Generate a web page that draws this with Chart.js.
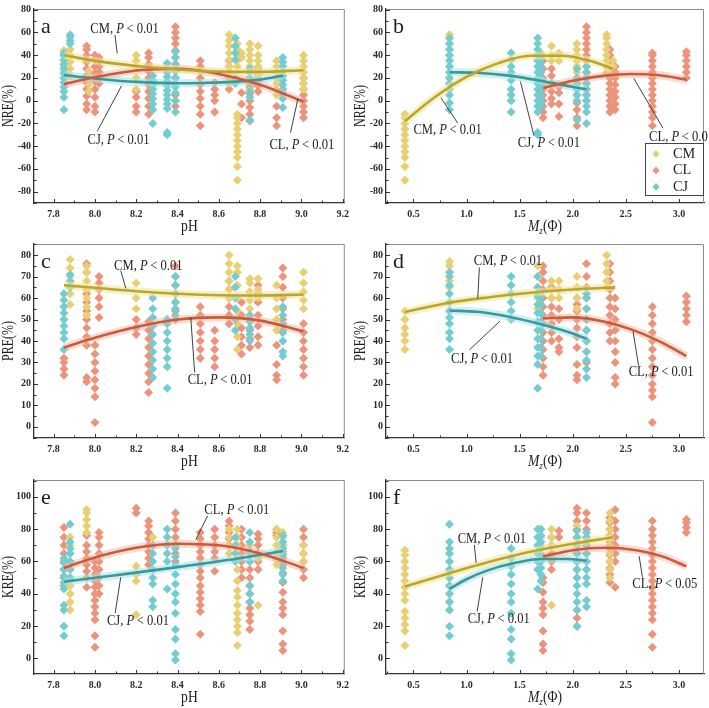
<!DOCTYPE html>
<html>
<head>
<meta charset="utf-8">
<script src="https://cdn.jsdelivr.net/npm/chart.js@4.4.1/dist/chart.umd.min.js"></script>
<style>
  body { margin: 0; background: #fff; width: 709px; height: 708px; position: relative; overflow: hidden; }
  canvas { position: absolute; }
</style>
</head>
<body>
<canvas id="pa" width="354" height="236" style="left:0;top:0"></canvas>
<canvas id="pb" width="357" height="236" style="left:352px;top:0"></canvas>
<canvas id="pc" width="354" height="236" style="left:0;top:235px"></canvas>
<canvas id="pd" width="357" height="236" style="left:352px;top:235px"></canvas>
<canvas id="pe" width="354" height="236" style="left:0;top:471px"></canvas>
<canvas id="pf" width="357" height="236" style="left:352px;top:471px"></canvas>
<script>
const seriesNames = ['CM', 'CL', 'CJ'];

// tick labels
const phTicks = [7.8, 8.0, 8.2, 8.4, 8.6, 8.8, 9.0, 9.2];
const mzTicks = [0.5, 1.0, 1.5, 2.0, 2.5, 3.0];
const nreTicks = [-80, -60, -40, -20, 0, 20, 40, 60, 80];
const preTicks = [0, 10, 20, 30, 40, 50, 60, 70, 80];
const kreTicks = [0, 20, 40, 60, 80, 100];

// columns of points: [x, [y values]]
// NRE vs pH
const nrePhCM = [[7.85, [20, 25, 30, 35, 40, 44]], [7.88, [22, 28, 34, 40, 45]], [7.97, [8, 14, 20, 26]],
  [8.2, [10, 20, 30, 35, 40]], [8.65, [15, 20, 25, 30, 36, 42, 48, 53, 58]],
  [8.69, [-70, -58, -50, -45, -40, -35, -30, -25, -20, -15, -12, 30, 35, 40, 45, 50]], [8.71, [38, 42]],
  [8.75, [10, 15, 20, 25, 30, 35, 40, 45, 50]], [8.79, [20, 25, 30, 35, 40, 48]],
  [8.88, [5, 10, 15, 20, 25, 30, 35]], [9.01, [10, 15, 20, 25, 30, 35, 40]]];
const nrePhCL = [[7.96, [-8, -3, 4, 10, 16, 22, 28, 34, 40, 45, 48]], [8.0, [-10, -5, 3, 10, 17, 24, 30, 36, 40]],
  [8.02, [15, 20, 25, 30, 35, 38]], [8.2, [-10, -5, 3, 8]], [8.26, [-12, -5, 2, 8, 14, 20, 26, 32, 38, 42]],
  [8.39, [-5, 0, 5, 15, 20, 26, 32, 38, 44, 50, 55, 60, 65]], [8.51, [-22, -12, -5, 2, 8, 14, 20, 26, 30, 35]],
  [8.58, [-10, 0, 5, 10, 16]], [8.65, [10, 15, 20, 25, 30, 35]], [8.71, [-15, -3, 7]],
  [8.75, [-18, -12, -6, 0, 6, 12, 18]], [8.79, [8, 13, 18, 23, 28]], [8.88, [-22, -15, -5]],
  [9.01, [-15, -10, -5, 0, 5, 10, 15, 20]]];
const nrePhCJ = [[7.85, [-8, 3, 8, 12, 16, 20, 24, 28, 32, 36, 40, 42]], [7.88, [50, 53, 56, 58]],
  [8.28, [-20, -8, -3, 2, 6, 10, 14, 18, 22]], [8.35, [-30, -28, -7, -3, 1, 5, 9, 13, 17, 21, 25, 29, 33]],
  [8.39, [-10, 0, 7, 12, 20, 26, 32, 38, 43]], [8.68, [15, 20, 36, 42, 48, 55]],
  [8.75, [-17, 3, 8, 15, 20, 25, 28]], [8.91, [-6, 2, 6, 10, 14, 18, 22, 26, 30, 34, 38]]];

// NRE vs Mz
const nreMzCM = [[0.42, [-70, -58, -50, -45, -40, -35, -30, -25, -20, -15, -12]], [0.84, [20, 30, 40, 45, 50, 55, 58]],
  [1.7, [38, 42]], [1.8, [35, 40, 48]], [1.87, [35, 40, 42]], [2.04, [20, 25, 30, 35, 40, 45, 50]],
  [2.32, [25, 30, 35, 40, 45, 50, 55, 58]], [2.38, [30, 35]]];
const nreMzCL = [[1.72, [-15, -10, -5, 0, 5, 10, 15, 20, 28, 35]], [1.8, [-3, 2, 8, 15, 22, 28]],
  [1.87, [-14, -3, 7, 12]], [2.04, [-22, -15, -8, -2, 5]],
  [2.13, [0, 5, 10, 15, 20, 25, 30, 35, 40, 45, 50, 55, 60, 65]],
  [2.35, [-10, -5, 0, 5, 10, 15, 20, 25, 30, 35, 40, 45]], [2.4, [-8, -3, 3, 8, 14, 20, 25, 30]],
  [2.75, [-22, -15, -10, -5, 0, 5, 10, 15, 20, 25, 30, 35, 40, 42]], [3.07, [20, 25, 30, 35, 40, 43]]];
const nreMzCJ = [[0.84, [-8, -2, 5, 10, 15, 20, 25, 30, 35, 40, 45, 50, 55]], [1.42, [-10, 0, 5, 10, 18, 25, 30, 36, 42]],
  [1.67, [-30, -28, -10, -5, 0, 5, 10, 15, 20, 25, 30, 35, 40, 45, 50, 55]],
  [1.7, [-5, 0, 5, 10, 15, 20, 25, 30, 35, 40]], [2.04, [-17, 0, 5, 10, 15, 20, 28]],
  [2.13, [-20, -10, -5, 0, 5, 10, 15, 20, 25, 30]]];

// PRE vs pH
const prePhCM = [[7.88, [57, 62, 66, 70, 74, 78]], [7.96, [52, 56, 60, 64, 68, 72, 75]], [8.2, [55, 60, 67]],
  [8.39, [58, 62, 66, 70]], [8.65, [60, 64, 68, 72, 76, 80]], [8.69, [36, 42, 48, 54, 60, 66, 72, 75]],
  [8.75, [55, 59, 63, 67, 69]], [8.79, [60, 64, 69]], [8.88, [45, 50, 55, 60, 66]], [9.01, [55, 59, 63, 67, 72]]];
const prePhCL = [[7.85, [24, 27, 30, 32]], [7.96, [21, 23, 38, 42, 46, 50, 54, 58, 62, 72, 76]],
  [8.0, [2, 14, 18, 22, 26, 30, 34, 38]], [8.02, [51, 56, 60, 64, 67, 70]], [8.2, [43, 46, 50]],
  [8.26, [16, 21, 25, 29, 33, 37, 41, 45, 49]], [8.39, [50, 54, 58, 62, 66, 70, 75]],
  [8.51, [32, 36, 40, 44, 48, 52, 56]], [8.58, [28, 32, 36, 40, 45]], [8.65, [48, 52, 56, 60, 64, 68]],
  [8.71, [34, 38, 42, 46, 52, 58]], [8.75, [37, 41, 45, 50]], [8.79, [38, 42, 47, 52, 58, 62, 66]],
  [8.88, [22, 24, 29, 38]], [8.91, [45, 50, 55, 60, 65, 70, 74]], [9.01, [24, 28, 32, 36, 40, 44, 48]]];
const prePhCJ = [[7.85, [36, 41, 44, 47, 50, 53, 56, 59, 62]], [7.88, [65, 68, 71]],
  [8.28, [23, 27, 31, 35, 39, 43, 47, 51, 55, 60]], [8.35, [18, 28, 32, 36, 40, 44, 48, 50]],
  [8.39, [52, 55, 58, 62, 66, 70]], [8.68, [45, 50, 55, 60, 65, 70]], [8.75, [40, 43, 46, 49, 52]],
  [8.91, [33, 35, 40, 44, 48, 52, 56]]];

// PRE vs Mz
const preMzCM = [[0.42, [36, 40, 43, 46, 50, 54]], [0.84, [65, 68, 72, 75, 77]], [1.67, [55, 60, 65, 70, 75]],
  [1.8, [60, 64, 68]], [1.87, [60, 64, 68]], [2.04, [55, 60, 65, 70]], [2.32, [65, 68, 72, 76, 80]]];
const preMzCL = [[1.72, [24, 28, 32, 36, 40, 44, 48, 52, 56, 60, 64, 68, 72, 75]], [1.8, [40, 44, 48, 52, 56, 60, 65]],
  [1.87, [35, 37, 41, 50, 55]], [2.04, [22, 24, 29, 37, 42, 46, 50, 54, 57, 60]],
  [2.13, [30, 35, 40, 45, 50, 55, 60, 65, 70, 76]], [2.35, [40, 44, 48, 52, 56, 60, 64, 68, 72, 76]],
  [2.4, [20, 23, 30, 35, 40, 45, 50, 55, 60]], [2.75, [2, 14, 17, 20, 24, 28, 32, 36, 40, 44, 48, 52, 56]],
  [3.07, [49, 52, 55, 58, 61]]];
const preMzCJ = [[0.84, [36, 41, 44, 48, 51, 54, 58, 62, 66, 70, 72]], [1.42, [50, 54, 58, 62, 66, 70]],
  [1.67, [18, 29, 33, 37, 41, 45, 49, 53, 57, 61, 65, 70]], [1.7, [33, 37, 41, 45, 49, 53, 57, 60]],
  [2.13, [23, 27, 31, 35, 40, 45, 50, 55, 60, 62]]];

// KRE vs pH
const krePhCM = [[7.88, [30, 35, 40, 45, 50, 55, 60, 65, 70, 75]], [7.96, [78, 82, 86, 90, 92]],
  [8.2, [27, 48, 52, 57]], [8.28, [70, 75]], [8.65, [65, 70, 75, 80]],
  [8.69, [8, 16, 20, 24, 28, 33, 38, 42, 48, 55, 62, 70, 75, 80]], [8.75, [60, 65, 70]], [8.79, [33, 62]],
  [8.88, [58, 62, 66, 70, 75, 80]], [8.91, [60, 65, 70, 75, 78]], [9.01, [60, 65, 70]]];
const krePhCL = [[7.85, [45, 50, 55, 60, 65, 70, 75, 81]], [7.96, [44, 50, 54, 58, 62, 66, 70, 76]],
  [8.0, [7, 14, 24, 28, 32, 36, 40, 44, 48, 52, 56, 60]], [8.02, [40, 45, 50, 55, 60, 65, 70, 75, 78]],
  [8.2, [90, 93]], [8.26, [58, 62, 66, 70, 74, 78, 82, 85]], [8.39, [60, 65, 70, 75, 80, 85, 90]],
  [8.51, [15, 29, 33, 37, 41, 45, 50, 54, 58, 62, 66, 70, 74, 78]], [8.58, [54, 62, 66, 70, 75, 80]],
  [8.65, [70, 74, 78, 82, 85]], [8.71, [50, 55, 60, 65, 70, 75, 80]], [8.75, [18, 23, 27, 31, 35, 40, 45, 50, 55]],
  [8.79, [55, 60, 65, 70, 74, 77]], [8.88, [76, 78, 80]],
  [8.91, [5, 9, 17, 27, 31, 35, 41, 47, 53, 58, 62, 66, 70]], [9.01, [50, 55, 60, 65, 70, 75, 80]]];
const krePhCJ = [[7.85, [14, 20, 30, 33, 43, 47, 51, 55, 59, 62]], [7.88, [50, 55, 60, 65, 68, 72, 83]],
  [8.28, [32, 36, 46, 50, 55, 60, 65, 70]], [8.35, [43, 60, 65, 70, 75, 80]],
  [8.39, [-1, 3, 12, 18, 28, 35, 40, 46, 52, 58, 63, 68, 70]], [8.68, [60, 65, 70, 75]],
  [8.75, [35, 40, 45, 60, 66, 72, 78]], [8.91, [48, 52, 56, 60, 64, 68, 72, 76]]];

// KRE vs Mz
const kreMzCM = [[0.42, [8, 17, 21, 25, 29, 36, 40, 44, 48, 52, 56, 60, 64, 67]], [0.84, [30, 35, 40, 45, 50, 55, 60, 65]],
  [1.7, [60, 65, 70, 75, 80]], [1.8, [33, 70, 75, 80]], [2.04, [60, 65, 70, 75, 82]],
  [2.35, [50, 55, 60, 65, 70, 75, 80, 85, 90]]];
const kreMzCL = [[1.72, [5, 9, 17, 27, 31, 35, 41, 47, 50]], [1.8, [55, 60, 65, 70, 75]], [1.87, [75, 79]],
  [2.04, [20, 25, 30, 50, 55, 60, 65, 70, 75, 80, 85, 90, 93]], [2.13, [55, 60, 65, 70, 75, 80, 85, 90]],
  [2.35, [47, 52, 56, 60, 64, 68, 72, 76, 80, 84, 87]], [2.4, [44, 60, 65, 70, 75, 80, 85, 92]],
  [2.75, [7, 15, 24, 28, 32, 36, 40, 44, 48, 52, 56, 60, 64, 68, 72, 76, 80, 85]], [3.07, [78, 81, 84, 86]]];
const kreMzCJ = [[0.84, [14, 20, 30, 35, 40, 45, 50, 55, 60, 65, 68, 72, 83]],
  [1.42, [-1, 3, 12, 18, 28, 35, 40, 46, 52, 57, 62, 68]], [1.67, [43, 55, 60, 65, 70, 75, 80]],
  [1.7, [48, 52, 56, 60, 64, 68, 72, 76, 80]], [2.04, [20, 30, 35, 40, 45, 50, 55, 60, 65, 70, 75, 79]],
  [2.13, [32, 36, 46, 50, 55, 60, 65, 70, 75, 78]]];

// fitted curves
const fitNrePhCM = [[7.85, 40], [8.0, 35], [8.2, 30.5], [8.4, 27.5], [8.6, 25.5], [8.8, 25.3], [9.01, 26.8]];
const fitNrePhCL = [[7.85, 14.5], [8.0, 20.5], [8.2, 26.5], [8.4, 28], [8.6, 23.5], [8.8, 14], [9.01, -1]];
const fitNrePhCJ = [[7.85, 22.5], [8.0, 19.5], [8.2, 16.5], [8.4, 15.3], [8.6, 16], [8.8, 18.5], [8.91, 22]];
const fitNreMzCM = [[0.42, -18], [0.7, 3], [1.0, 21], [1.3, 33], [1.6, 39.5], [1.9, 39.5], [2.2, 34], [2.38, 28]];
const fitNreMzCL = [[1.72, 11], [2.0, 17.5], [2.3, 22], [2.55, 23.5], [2.8, 22.5], [3.07, 18.5]];
const fitNreMzCJ = [[0.84, 25], [1.1, 24.5], [1.4, 22], [1.7, 17.5], [1.95, 13], [2.13, 10]];
const fitPrePhCM = [[7.85, 66], [8.0, 64.8], [8.2, 63.2], [8.4, 62], [8.6, 61.3], [8.8, 61.2], [9.01, 61.7]];
const fitPrePhCL = [[7.85, 37], [8.0, 41.5], [8.2, 46.5], [8.4, 50], [8.6, 51], [8.8, 49.5], [9.01, 44.5]];
const fitPreMzCM = [[0.42, 53.5], [0.8, 57.5], [1.2, 60.3], [1.6, 62.5], [2.0, 64], [2.4, 65]];
const fitPreMzCL = [[1.72, 50.5], [2.0, 51], [2.3, 49], [2.6, 44.5], [2.85, 39], [3.07, 33]];
const fitPreMzCJ = [[0.84, 54.2], [1.1, 53.6], [1.4, 51.3], [1.7, 47.8], [2.0, 43.5], [2.13, 41]];
const fitKrePhCL = [[7.85, 56], [8.0, 62.5], [8.2, 68.5], [8.4, 71], [8.6, 70], [8.8, 65], [9.01, 56]];
const fitKrePhCJ = [[7.85, 47.5], [8.1, 51.5], [8.4, 56.5], [8.7, 62], [8.91, 66.5]];
const fitKreMzCM = [[0.42, 44.5], [0.8, 52], [1.2, 59.5], [1.6, 66], [2.0, 71], [2.38, 75]];
const fitKreMzCL = [[1.72, 63], [2.0, 67], [2.3, 68.5], [2.6, 67], [2.85, 63], [3.07, 57]];
const fitKreMzCJ = [[0.84, 43], [1.0, 49], [1.2, 54.5], [1.45, 59], [1.7, 61.5], [1.95, 61.5], [2.13, 60.5]];

// labels with leader lines (data coords): text pos, line start, line end
const notesA = [
  { s: 'CM', p: '0.01', at: [7.978, 62.6], line: [[8.097, 57.7], [8.108, 41.7]] },
  { s: 'CJ', p: '0.01', at: [7.964, -34.8], line: [[8.011, -27], [8.129, 13]] },
  { s: 'CL', p: '0.01', at: [8.845, -39.7], line: [[8.947, -28.2], [8.983, 1.6]] }];
const notesB = [
  { s: 'CM', p: '0.01', at: [0.5, -26.2], line: [[0.917, -19.7], [0.76, 2.4]] },
  { s: 'CJ', p: '0.01', at: [1.483, -37.7], line: [[1.634, -30.5], [1.508, 16.8]] },
  { s: 'CL', p: '0.01', at: [2.719, -31.9], line: [[2.85, -24.2], [2.575, 19.6]] }];
const notesC = [
  { s: 'CM', p: '0.01', at: [8.093, 75], line: [[8.125, 72.8], [8.15, 64.5]] },
  { s: 'CL', p: '0.01', at: [8.449, 21.6], line: [[8.483, 25.4], [8.464, 51]] }];
const notesD = [
  { s: 'CM', p: '0.01', at: [1.068, 77], line: [[1.121, 74.3], [1.106, 60]] },
  { s: 'CJ', p: '0.01', at: [0.854, 31.4], line: [[1.026, 35.8], [1.316, 49.3]] },
  { s: 'CL', p: '0.01', at: [2.527, 25.5], line: [[2.62, 28.5], [2.568, 44.4]] }];
const notesE = [
  { s: 'CL', p: '0.01', at: [8.53, 91.7], line: [[8.546, 88.3], [8.489, 73.6]] },
  { s: 'CJ', p: '0.01', at: [8.058, 23.1], line: [[8.098, 28.1], [8.125, 50.2]] }];
const notesF = [
  { s: 'CM', p: '0.01', at: [0.917, 73.7], line: [[1.074, 70.2], [1.09, 59.2]] },
  { s: 'CJ', p: '0.01', at: [1.011, 24.1], line: [[1.1, 29.1], [1.153, 50.2]] },
  { s: 'CL', p: '0.05', at: [2.561, 46.1], line: [[2.657, 50.2], [2.625, 63.3]] }];

const pointColor = { CM: '#e8cf72', CL: '#ec937b', CJ: '#72cdd1' };
const lineColor = { CM: '#b7a72e', CL: '#c95a3a', CJ: '#3b9899' };
const bandColor = { CM: 'rgba(242,228,150,0.55)', CL: 'rgba(245,175,155,0.45)', CJ: 'rgba(165,228,232,0.55)' };
const SERIF = '"Liberation Serif", "Times New Roman", serif';

const phTitle = [{ t: 'pH' }];
const mzTitle = [{ t: 'M', it: true }, { t: 'z', it: true, sub: true }, { t: '(Φ)' }];

const panels = [
  { id: 'pa', letter: 'a', yTitle: 'NRE(%)', xTitle: phTitle, xr: [7.705, 9.21], yr: [-90, 80.6], xt: phTicks, yt: nreTicks,
    pts: { CM: nrePhCM, CL: nrePhCL, CJ: nrePhCJ }, fits: { CM: fitNrePhCM, CL: fitNrePhCL, CJ: fitNrePhCJ }, notes: notesA },
  { id: 'pb', letter: 'b', yTitle: 'NRE(%)', xTitle: mzTitle, xr: [0.242, 3.236], yr: [-90, 80.6], xt: mzTicks, yt: nreTicks,
    pts: { CM: nreMzCM, CL: nreMzCL, CJ: nreMzCJ }, fits: { CM: fitNreMzCM, CL: fitNreMzCL, CJ: fitNreMzCJ }, notes: notesB, legend: true },
  { id: 'pc', letter: 'c', yTitle: 'PRE(%)', xTitle: phTitle, xr: [7.705, 9.21], yr: [-5.2, 85.2], xt: phTicks, yt: preTicks,
    pts: { CM: prePhCM, CL: prePhCL, CJ: prePhCJ }, fits: { CM: fitPrePhCM, CL: fitPrePhCL }, notes: notesC },
  { id: 'pd', letter: 'd', yTitle: 'PRE(%)', xTitle: mzTitle, xr: [0.242, 3.236], yr: [-5.2, 85.2], xt: mzTicks, yt: preTicks,
    pts: { CM: preMzCM, CL: preMzCL, CJ: preMzCJ }, fits: { CM: fitPreMzCM, CL: fitPreMzCL, CJ: fitPreMzCJ }, notes: notesD },
  { id: 'pe', letter: 'e', yTitle: 'KRE(%)', xTitle: phTitle, xr: [7.705, 9.21], yr: [-9.6, 110.4], xt: phTicks, yt: kreTicks,
    pts: { CM: krePhCM, CL: krePhCL, CJ: krePhCJ }, fits: { CL: fitKrePhCL, CJ: fitKrePhCJ }, notes: notesE },
  { id: 'pf', letter: 'f', yTitle: 'KRE(%)', xTitle: mzTitle, xr: [0.242, 3.236], yr: [-9.6, 110.4], xt: mzTicks, yt: kreTicks,
    pts: { CM: kreMzCM, CL: kreMzCL, CJ: kreMzCJ }, fits: { CM: fitKreMzCM, CL: fitKreMzCL, CJ: fitKreMzCJ }, notes: notesF }
];

const toPoints = cols => cols.flatMap(([x, ys]) => ys.map(y => ({ x, y })));
const toXY = arr => arr.map(([x, y]) => ({ x, y }));

// draw a row of text pieces (italic / subscript), squeezed horizontally by sx
function richText(ctx, segs, x, y, size, align, sx) {
  sx = sx || 1;
  const fontOf = s => (s.it ? 'italic ' : '') + (s.sub ? Math.round(size * 0.7) : size) + 'px ' + SERIF;
  let w = 0;
  segs.forEach(s => { ctx.font = fontOf(s); w += ctx.measureText(s.t).width; });
  ctx.save();
  ctx.translate(x, y);
  ctx.scale(sx, 1);
  let cx = align === 'center' ? -w / 2 : 0;
  ctx.textBaseline = 'middle';
  ctx.textAlign = 'left';
  segs.forEach(s => {
    ctx.font = fontOf(s);
    ctx.fillText(s.t, cx, s.sub ? size * 0.28 : 0);
    cx += ctx.measureText(s.t).width;
  });
  ctx.restore();
}

function minorTicks(major, lo, hi) {
  const step = major[1] - major[0];
  const out = [];
  for (let v = major[0] - step / 2; v <= hi; v += step) if (v >= lo) out.push(v);
  return out;
}

const decor = {
  id: 'decor',
  afterDraw(chart, args, o) {
    const { ctx, chartArea: a, scales } = chart;
    const sx = scales.x, sy = scales.y;
    ctx.save();
    // grey frame top/right
    ctx.strokeStyle = '#8c8c8c';
    ctx.lineWidth = 1;
    ctx.beginPath();
    ctx.moveTo(a.left, a.top + 0.5); ctx.lineTo(a.right - 0.5, a.top + 0.5); ctx.lineTo(a.right - 0.5, a.bottom);
    ctx.stroke();
    // inward ticks
    ctx.strokeStyle = '#333';
    ctx.beginPath();
    o.xt.forEach(v => { const p = Math.round(sx.getPixelForValue(v)) + 0.5; ctx.moveTo(p, a.bottom); ctx.lineTo(p, a.bottom - 4); });
    minorTicks(o.xt, sx.min, sx.max).forEach(v => { const p = Math.round(sx.getPixelForValue(v)) + 0.5; ctx.moveTo(p, a.bottom); ctx.lineTo(p, a.bottom - 2.5); });
    o.yt.forEach(v => { const p = Math.round(sy.getPixelForValue(v)) + 0.5; ctx.moveTo(a.left, p); ctx.lineTo(a.left + 4, p); });
    minorTicks(o.yt, sy.min, sy.max).forEach(v => { const p = Math.round(sy.getPixelForValue(v)) + 0.5; ctx.moveTo(a.left, p); ctx.lineTo(a.left + 2.5, p); });
    ctx.stroke();

    ctx.fillStyle = '#1e1e1e';
    // panel letter
    ctx.font = '22px ' + SERIF;
    ctx.textBaseline = 'alphabetic';
    ctx.fillText(o.letter, a.left + 7, a.top + 24);
    // axis titles
    richText(ctx, o.xTitle, (a.left + a.right) / 2, a.bottom + 24, 16, 'center', 0.85);
    ctx.save();
    ctx.translate(a.left - 25, (a.top + a.bottom) / 2);
    ctx.rotate(-Math.PI / 2);
    richText(ctx, [{ t: o.yTitle }], 0, 0, 16, 'center', 0.75);
    ctx.restore();

    // notes with leader lines
    ctx.strokeStyle = '#2a2a2a';
    ctx.lineWidth = 0.9;
    o.notes.forEach(n => {
      ctx.beginPath();
      ctx.moveTo(sx.getPixelForValue(n.line[0][0]), sy.getPixelForValue(n.line[0][1]));
      ctx.lineTo(sx.getPixelForValue(n.line[1][0]), sy.getPixelForValue(n.line[1][1]));
      ctx.stroke();
      richText(ctx, [{ t: n.s + ', ' }, { t: 'P', it: true }, { t: '\u2009< ' + n.p }],
        sx.getPixelForValue(n.at[0]), sy.getPixelForValue(n.at[1]), 14, 'left', 0.9);
    });

    // legend box
    if (o.legend) {
      const bx = a.right - 59, by = a.bottom - 60;
      ctx.fillStyle = '#fff';
      ctx.fillRect(bx, by, 59, 52);
      ctx.strokeStyle = '#444';
      ctx.lineWidth = 1;
      ctx.strokeRect(bx + 0.5, by + 0.5, 58, 52);
      seriesNames.forEach((s, i) => {
        const yy = by + 11 + i * 16.5;
        ctx.fillStyle = pointColor[s];
        ctx.beginPath();
        ctx.moveTo(bx + 11, yy - 4); ctx.lineTo(bx + 14.5, yy); ctx.lineTo(bx + 11, yy + 4); ctx.lineTo(bx + 7.5, yy);
        ctx.closePath(); ctx.fill();
        ctx.fillStyle = '#1e1e1e';
        richText(ctx, [{ t: s }], bx + 28, yy, 15, 'left', 0.95);
      });
    }
    ctx.restore();
  }
};

panels.forEach(pn => {
  const datasets = [];
  // points: CL at back, then CM, then CJ
  [['CL', 6], ['CM', 5], ['CJ', 4]].forEach(([s, ord]) => {
    datasets.push({
      label: s, data: toPoints(pn.pts[s]), order: ord,
      pointStyle: 'rectRot', pointRadius: 4.5, pointBorderWidth: 0,
      backgroundColor: pointColor[s], borderColor: pointColor[s]
    });
  });
  Object.keys(pn.fits).forEach(s => {
    const d = toXY(pn.fits[s]);
    datasets.push({ type: 'line', data: d, order: 2, borderColor: bandColor[s], borderWidth: 8,
      pointRadius: 0, cubicInterpolationMode: 'monotone', fill: false, borderCapStyle: 'butt' });
    datasets.push({ type: 'line', data: d, order: 0, borderColor: lineColor[s], borderWidth: 2.6,
      pointRadius: 0, cubicInterpolationMode: 'monotone', fill: false });
  });

  const canvas = document.getElementById(pn.id);
  new Chart(canvas, {
    type: 'scatter',
    data: { datasets },
    plugins: [decor],
    options: {
      responsive: false,
      animation: false,
      events: [],
      layout: { padding: { top: 4, right: canvas.width - 352, left: 0, bottom: 0 } },
      scales: {
        x: {
          type: 'linear', min: pn.xr[0], max: pn.xr[1],
          afterBuildTicks: s => { s.ticks = pn.xt.map(v => ({ value: v })); },
          afterFit: s => { s.height = 33; },
          grid: { display: false, drawTicks: false },
          border: { display: true, color: '#333', width: 1.3 },
          ticks: { padding: 5, color: '#2a2a2a', font: { family: SERIF, size: 10, weight: 'bold' },
            maxRotation: 0, callback: v => v.toFixed(1) }
        },
        y: {
          type: 'linear', min: pn.yr[0], max: pn.yr[1],
          afterBuildTicks: s => { s.ticks = pn.yt.map(v => ({ value: v })); },
          afterFit: s => { s.width = 34; },
          grid: { display: false, drawTicks: false },
          border: { display: true, color: '#333', width: 1.3 },
          ticks: { padding: 3, color: '#2a2a2a', font: { family: SERIF, size: 10, weight: 'bold' } }
        }
      },
      plugins: {
        legend: { display: false },
        tooltip: { enabled: false },
        decor: { letter: pn.letter, xTitle: pn.xTitle, yTitle: pn.yTitle, xt: pn.xt, yt: pn.yt,
          notes: pn.notes, legend: !!pn.legend }
      }
    }
  });
});
</script>
</body>
</html>
